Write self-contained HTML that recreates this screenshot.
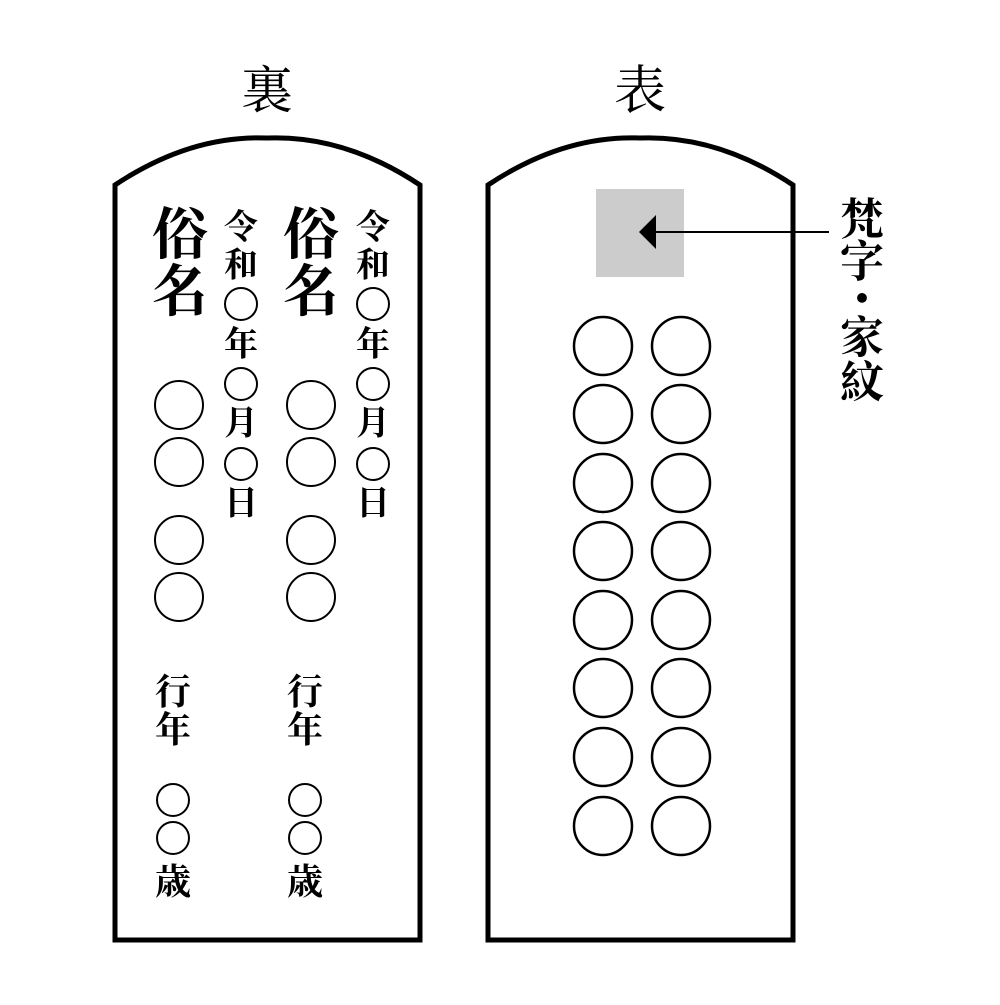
<!DOCTYPE html>
<html><head><meta charset="utf-8"><style>
html,body{margin:0;padding:0;background:#fff;}
svg text{font-family:"Liberation Serif","Noto Serif CJK SC","Noto Sans CJK JP",serif;fill:#000;}
</style></head><body>
<svg width="1000" height="1000" viewBox="0 0 1000 1000" xmlns="http://www.w3.org/2000/svg">
<rect width="1000" height="1000" fill="#fff"/>
<text x="267" y="92" font-size="52" text-anchor="middle" dominant-baseline="central">裏</text>
<text x="640" y="92" font-size="52" text-anchor="middle" dominant-baseline="central">表</text>
<path d="M115,940 L115,185 Q190,135 267,138 Q345,135 420,185 L420,940 Z" fill="#fff" stroke="#000" stroke-width="5"/>
<path d="M488,940 L488,185 Q563,135 640,138 Q718,135 793,185 L793,940 Z" fill="#fff" stroke="#000" stroke-width="5"/>
<g font-weight="bold">
<text x="180" y="236" font-size="56" text-anchor="middle" dominant-baseline="central">俗</text>
<text x="180" y="293" font-size="56" text-anchor="middle" dominant-baseline="central">名</text>
<text x="311" y="236" font-size="56" text-anchor="middle" dominant-baseline="central">俗</text>
<text x="311" y="293" font-size="56" text-anchor="middle" dominant-baseline="central">名</text>
</g>
<g font-size="34" text-anchor="middle" dominant-baseline="central" font-weight="bold">
<text x="241" y="228">令</text><text x="241" y="266">和</text><text x="241" y="345">年</text><text x="241" y="424">月</text><text x="241" y="504">日</text>
<text x="373" y="228">令</text><text x="373" y="266">和</text><text x="373" y="345">年</text><text x="373" y="424">月</text><text x="373" y="504">日</text>
</g>
<g font-size="36" text-anchor="middle" dominant-baseline="central" font-weight="bold">
<text x="173" y="692">行</text><text x="173" y="730">年</text><text x="173" y="882">歳</text>
<text x="305" y="692">行</text><text x="305" y="730">年</text><text x="305" y="882">歳</text>
</g>
<g fill="none" stroke="#000" stroke-width="2">
<circle cx="241" cy="304" r="16"/><circle cx="241" cy="384" r="16"/><circle cx="241" cy="464" r="16"/>
<circle cx="373" cy="304" r="16"/><circle cx="373" cy="384" r="16"/><circle cx="373" cy="464" r="16"/>
<circle cx="179" cy="405" r="24"/><circle cx="179" cy="462" r="24"/><circle cx="179" cy="540" r="24"/><circle cx="179" cy="597" r="24"/>
<circle cx="311" cy="405" r="24"/><circle cx="311" cy="462" r="24"/><circle cx="311" cy="540" r="24"/><circle cx="311" cy="597" r="24"/>
<circle cx="173" cy="800" r="16"/><circle cx="173" cy="838" r="16"/>
<circle cx="305" cy="800" r="16"/><circle cx="305" cy="838" r="16"/>
</g>
<rect x="596" y="189" width="88" height="88" fill="#ccc"/>
<g fill="none" stroke="#000" stroke-width="2.5">
<circle cx="603" cy="346" r="29"/><circle cx="681" cy="346" r="29"/>
<circle cx="603" cy="414" r="29"/><circle cx="681" cy="414" r="29"/>
<circle cx="603" cy="483" r="29"/><circle cx="681" cy="483" r="29"/>
<circle cx="603" cy="551" r="29"/><circle cx="681" cy="551" r="29"/>
<circle cx="603" cy="620" r="29"/><circle cx="681" cy="620" r="29"/>
<circle cx="603" cy="688" r="29"/><circle cx="681" cy="688" r="29"/>
<circle cx="603" cy="757" r="29"/><circle cx="681" cy="757" r="29"/>
<circle cx="603" cy="826" r="29"/><circle cx="681" cy="826" r="29"/>
</g>
<line x1="650" y1="232" x2="829" y2="232" stroke="#000" stroke-width="2"/>
<polygon points="639,232 656,215 656,249" fill="#000"/>
<g font-size="44" text-anchor="middle" dominant-baseline="central" font-weight="bold">
<text x="862" y="220">梵</text><text x="862" y="262">字</text><text x="862" y="300">・</text><text x="862" y="338">家</text><text x="862" y="383">紋</text>
</g>
</svg>
</body></html>
